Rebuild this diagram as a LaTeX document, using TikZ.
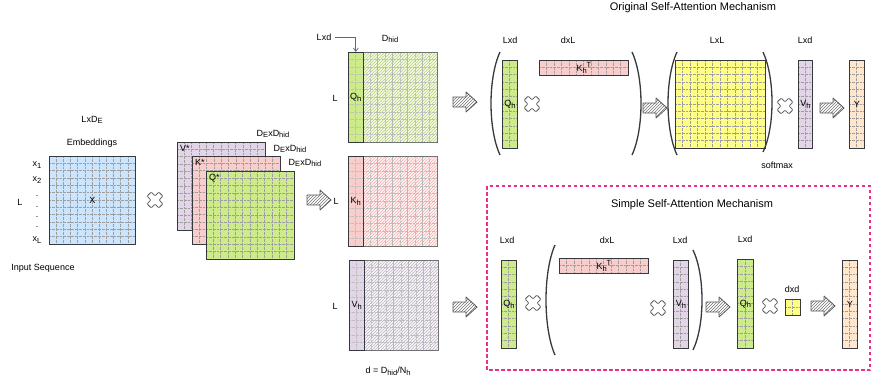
\documentclass[tikz,border=0pt]{standalone}
\usepackage{fontspec}
\setmainfont{Liberation Sans}
\usetikzlibrary{patterns,arrows.meta}
\definecolor{cblue}{HTML}{CCE5FF}
\definecolor{cgreen}{HTML}{CDEB8B}
\definecolor{cpink}{HTML}{F8CECC}
\definecolor{cpurple}{HTML}{E1D5E7}
\definecolor{cyellow}{HTML}{FFFF88}
\definecolor{corange}{HTML}{FFE6CC}
\definecolor{cmag}{HTML}{E5338A}
\definecolor{edge}{HTML}{36393D}
\newcommand\mysub[1]{\raisebox{-0.35ex}{\fontsize{7.5}{8}\selectfont #1}}
\newcommand\mysup[1]{\raisebox{0.9ex}{\fontsize{7.5}{8}\selectfont #1}}
\tikzset{
  lbl/.style={font=\fontsize{9}{10}\selectfont, inner sep=0pt},
  ttl/.style={font=\fontsize{11}{13}\selectfont, inner sep=0pt},
  gl/.style={densely dotted, draw=black!38, line width=0.35pt},
  mbox/.style={draw=edge, line width=0.8pt, inner sep=0pt, font=\fontsize{9}{10}\selectfont},
  paren/.style={draw=edge, line width=1.3pt},
  pics/mulx/.style={code={
    \draw[draw=edge!85, fill=white, line width=0.8pt, rotate=45, rounded corners=1pt]
      (2.9,2.9)--(2.9,8.3)--(-2.9,8.3)--(-2.9,2.9)--(-8.3,2.9)--(-8.3,-2.9)--(-2.9,-2.9)
      --(-2.9,-8.3)--(2.9,-8.3)--(2.9,-2.9)--(8.3,-2.9)--(8.3,2.9)--cycle;}},
  pics/barrow/.style={code={
    \draw[draw=edge!85, line width=0.8pt, pattern=north east lines, pattern color=black!55, line join=round]
      (0,-5)--(13,-5)--(13,-10)--(24,0)--(13,10)--(13,5)--(0,5)--cycle;}},
}
% name, x, y, w, h, nx, ny, fill, label
\newcommand\gmat[9]{%
  \fill[#8] (#2,#3) rectangle ++(#4,#5);
  \foreach \i in {1,...,#6}{\draw[gl] ({#2+#4*\i/#6},#3) -- ++(0,#5);}
  \foreach \j in {1,...,#7}{\draw[gl] (#2,{#3+#5*\j/#7}) -- ++(#4,0);}
  \node[mbox, minimum width=#4pt, minimum height=#5pt, anchor=north west] (#1) at (#2,#3) {#9};
}
% name, x, y, column fill, hatch colour, label
\newcommand\hmat[6]{%
  \fill[#4!22] (#2,#3) rectangle ++(89,90);
  \fill[pattern=north east lines, pattern color=#5] (#2,#3) rectangle ++(89,90);
  \fill[#4] (#2,#3) rectangle ++(14.8,90);
  \foreach \i in {1,...,12}{\draw[gl, draw=black!25] ({#2+89*\i/12},#3) -- ++(0,90);}
  \foreach \j in {1,...,12}{\draw[gl, draw=black!25] (#2,{#3+90*\j/12}) -- ++(89,0);}
  \foreach \i in {2,...,5}{\draw[black!28, line width=0.9pt] ({#2+89*\i/6},#3) -- ++(0,90);}
  \node[mbox, draw=black!55, minimum width=89pt, minimum height=90pt, anchor=north west] (#1m) at (#2,#3) {};
  \node[mbox, minimum width=14.8pt, minimum height=90pt, anchor=north west] (#1h) at (#2,#3) {#6};
}
\begin{document}
\begin{tikzpicture}[x=1pt,y=-1pt]
\useasboundingbox (0,0) rectangle (872,380);
% ---------- input embeddings ----------
\node[lbl] (lde) at (92,120) {LxD\mysub{E}};
\node[lbl] (emb) at (92,143) {Embeddings};
\gmat{X}{49}{156}{86}{88}{12}{12}{cblue}{X}
\node[lbl] (x1) at (37,165) {x\mysub{1}};
\node[lbl] (x2) at (37,180) {x\mysub{2}};
\foreach \yy/\nm in {196/d1,207/d2,217/d3,227/d4}{\node[lbl] (\nm) at (37,\yy) {.};}
\node[lbl] (xL) at (37,240) {x\mysub{L}};
\node[lbl] (LX) at (20,202) {L};
\node[lbl] (ins) at (43,268) {Input Sequence};
\pic at (155,200) {mulx};
% ---------- projection matrices ----------
\gmat{Vs}{177}{142}{88}{88}{12}{12}{cpurple}{}
\gmat{Ks}{192}{156}{88}{88}{12}{12}{cpink}{}
\gmat{Qs}{206}{171}{88}{88}{12}{12}{cgreen}{}
\node[lbl, anchor=north west] (vst) at ([shift={(3,3)}]Vs.north west) {V*};
\node[lbl, anchor=north west] (kst) at ([shift={(3,3)}]Ks.north west) {K*};
\node[lbl, anchor=north west] (qst) at ([shift={(3,3)}]Qs.north west) {Q*};
\node[lbl] (dv) at (273,134) {D\mysub{E}xD\mysub{hid}};
\node[lbl] (dk) at (290,149) {D\mysub{E}xD\mysub{hid}};
\node[lbl] (dq) at (305,163) {D\mysub{E}xD\mysub{hid}};
\pic at (307,200) {barrow};
% ---------- heads ----------
\hmat{Q}{348}{52}{cgreen}{cgreen!90!black}{Q\mysub{h}}
\hmat{K}{348}{156}{cpink}{cpink!85!red}{K\mysub{h}}
\hmat{V}{349}{260}{cpurple}{cpurple!85!black}{V\mysub{h}}
\node[lbl] (lxdm) at (324,37) {Lxd};
\draw[black!60, line width=0.7pt, -{Straight Barb[length=3.5pt,width=5pt]}] ([xshift=4pt]lxdm.east) -| (Qh.north);
\node[lbl] (dhid) at (390,39) {D\mysub{hid}};
\node[lbl] (LQ) at (335,98) {L};
\node[lbl] (LK) at (336,201) {L};
\node[lbl] (LV) at (335,306) {L};
\node[lbl] (dd) at (388,371) {d = D\mysub{hid}/N\mysub{h}};
\pic at (453,102) {barrow};
\pic at (453,307) {barrow};
% ---------- original self-attention ----------
\node[ttl] (t1) at (693,8) {Original Self-Attention Mechanism};
\gmat{Qo}{502}{60}{15}{88}{2}{12}{cgreen}{Q\mysub{h}}
\gmat{Ko}{539}{60}{89}{15}{12}{2}{cpink}{K\mysub{h}\mysup{T}}
\gmat{A}{675}{60}{90}{88}{12}{12}{cyellow}{}
\gmat{Vo}{798}{60}{14}{88}{2}{12}{cpurple}{V\mysub{h}}
\gmat{Yo}{849}{60}{15}{88}{2}{12}{corange}{Y}
\node[lbl] (l1) at (510,40) {Lxd};
\node[lbl] (l2) at (568,40) {dxL};
\node[lbl] (l3) at (717,40) {LxL};
\node[lbl] (l4) at (805,40) {Lxd};
\node[lbl] (sm) at (777,165) {softmax};
\pic at (532,104) {mulx};
\pic at (785,106) {mulx};
\pic at (643,108) {barrow};
\pic at (820,108) {barrow};
\draw[paren] (500,52) .. controls (488,78) and (488,129) .. (500,155);
\draw[paren] (632,52) .. controls (644,78) and (644,129) .. (632,155);
\draw[paren] (677,52) .. controls (665,78) and (665,129) .. (677,155);
\draw[paren] (763,52) .. controls (775,78) and (775,127) .. (763,152);
% ---------- simple self-attention ----------
\draw[cmag, line width=1.1pt, dash pattern=on 3.5pt off 2.5pt] (487,186) rectangle (870,370);
\node[ttl] (t2) at (692,205) {Simple Self-Attention Mechanism};
\gmat{Qa}{501}{260}{15}{88}{2}{12}{cgreen}{Q\mysub{h}}
\gmat{Ka}{559}{258}{89}{15}{12}{2}{cpink}{K\mysub{h}\mysup{T}}
\gmat{Va}{673}{260}{15}{88}{2}{12}{cpurple}{V\mysub{h}}
\gmat{Qb}{737}{259}{16}{89}{2}{12}{cgreen}{Q\mysub{h}}
\gmat{D}{785}{299}{15}{16}{2}{2}{cyellow}{}
\gmat{Ya}{842}{260}{15}{88}{2}{12}{corange}{Y}
\node[lbl] (m1) at (507,240) {Lxd};
\node[lbl] (m2) at (607,240) {dxL};
\node[lbl] (m3) at (680,240) {Lxd};
\node[lbl] (m4) at (745,239) {Lxd};
\node[lbl] (m5) at (792,289) {dxd};
\pic at (533,303) {mulx};
\pic at (658,308) {mulx};
\pic at (770,306) {mulx};
\pic at (706,307) {barrow};
\pic at (811,306) {barrow};
\draw[paren] (555,245) .. controls (543,272) and (543,328) .. (555,355);
\draw[paren] (693,250) .. controls (705,275) and (705,325) .. (693,350);
\end{tikzpicture}
\end{document}
